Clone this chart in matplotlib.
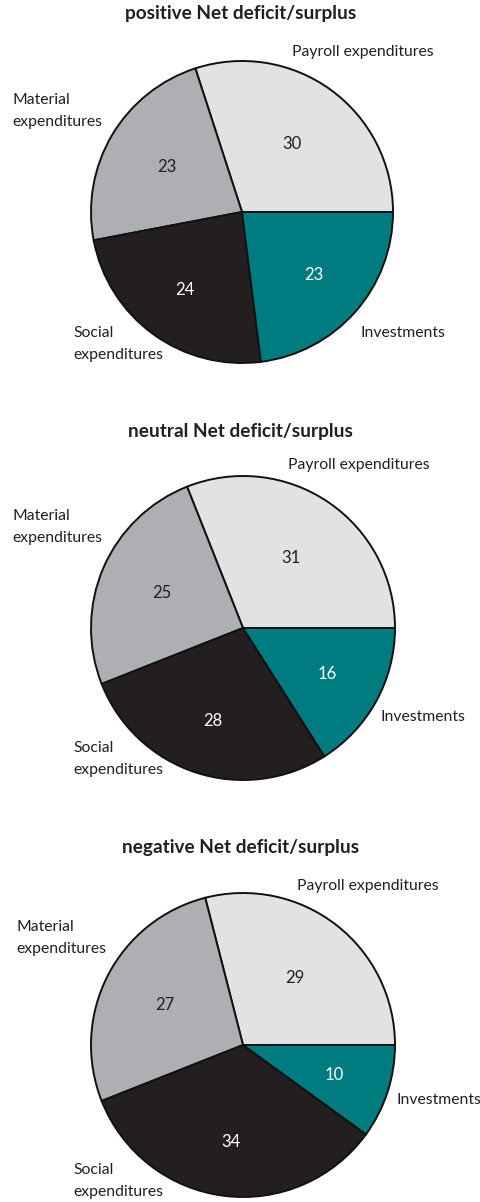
import numpy as np
import matplotlib
matplotlib.use("Agg")
from matplotlib import pyplot as plt

plt.rcParams['font.family'] = ['Lato', 'DejaVu Sans']

categories = ["Payroll expenditures", "Material\nexpenditures", "Social\nexpenditures", "Investments"]
titles = ["positive Net deficit/surplus", "neutral Net deficit/surplus", "negative Net deficit/surplus"]
positive_vals = [30, 23, 24, 23]
neutral_vals = [31, 25, 28, 16]
negative_vals = [29, 27, 34, 10]

colors = ["#e1e2e4", "#aeafb2", "#231f20", "#007b80"]
value_colors = ["#231f20", "#231f20", "white", "white"]

W, H = 481, 1202
# pie centres/radius in pixels, title y, and category label anchors (left x, centre y)
layout = [
    dict(cx=242, cy=212, r=151, ty=14,
         labels=[(292, 52), (12, 111), (73, 344), (360, 333)]),
    dict(cx=243, cy=628, r=152, ty=431,
         labels=[(288, 465), (12, 527), (73, 759), (381, 717)]),
    dict(cx=243, cy=1045, r=152, ty=847,
         labels=[(297, 886), (16, 938), (73, 1181), (396, 1100)]),
]
value_dist = [0.56, 0.58, 0.64, 0.63]

fig = plt.figure(figsize=(W / 100, H / 100), dpi=100)

for vals, title, lay in zip([positive_vals, neutral_vals, negative_vals], titles, layout):
    r = lay["r"]
    ax = fig.add_axes([(lay["cx"] - r) / W, 1 - (lay["cy"] + r) / H, 2 * r / W, 2 * r / H])
    wedges, _ = ax.pie(vals, colors=colors, startangle=0, counterclock=True,
                       wedgeprops=dict(edgecolor="#111111", linewidth=1.4))
    for w in wedges:
        w.set_clip_on(False)
    ax.set_xlim(-1, 1)
    ax.set_ylim(-1, 1)
    ax.set_aspect("equal")
    ax.axis("off")

    for w, v, c, d in zip(wedges, vals, value_colors, value_dist):
        mid = np.deg2rad((w.theta1 + w.theta2) / 2)
        ax.text(d * np.cos(mid), d * np.sin(mid), str(v), color=c, fontsize=12,
                ha="center", va="center")

    fig.text(0.5, 1 - lay["ty"] / H, title, ha="center", va="center",
             fontsize=13.7, fontweight="bold", color="#231f20")
    for cat, (lx, ly) in zip(categories, lay["labels"]):
        fig.text(lx / W, 1 - ly / H, cat, ha="left", va="center", fontsize=11.3,
                 color="#231f20", linespacing=1.7)

fig.savefig("out.png", dpi=100)
